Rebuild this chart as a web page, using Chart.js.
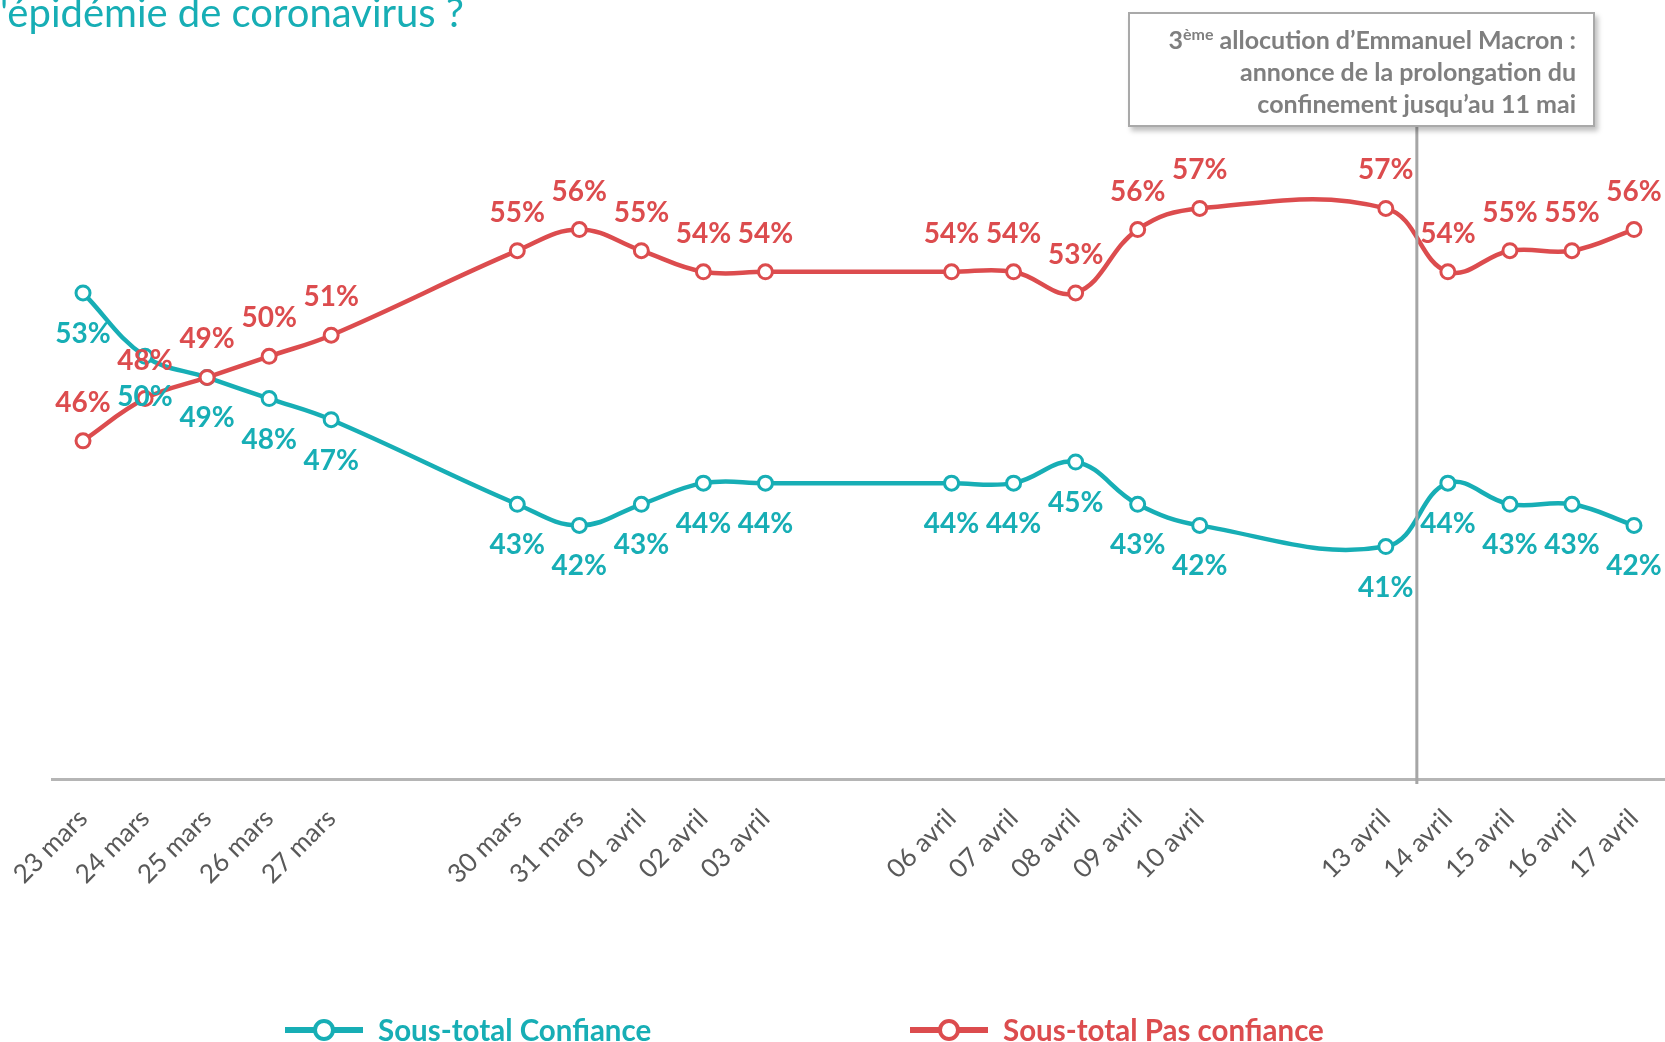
<!DOCTYPE html>
<html lang="fr">
<head>
  <meta charset="UTF-8" />
  <title>Confiance - coronavirus</title>
  <script src="https://cdn.jsdelivr.net/npm/chart.js"></script>
  <style>
    body {
      margin: 0;
      background: #fff;
      overflow: hidden;
      font-family: Lato, sans-serif;
    }
    .wrap {
      position: relative;
      width: 1665px;
      height: 1042px;
    }
    .title {
      position: absolute;
      left: 0;
      top: -8px;
      font-size: 40px;
      line-height: 40px;
      color: #17aeb5;
      white-space: nowrap;
    }
    .note {
      position: absolute;
      left: 1128px;
      top: 12px;
      width: 467px;
      height: 115px;
      box-sizing: border-box;
      border: 2px solid #a9a9a9;
      background: #fff;
      box-shadow: 3px 4px 5px rgba(0,0,0,0.25);
      padding: 9px 17px 0 0;
      text-align: right;
      font-weight: bold;
      font-size: 25px;
      line-height: 32px;
      color: #7f7f7f;
      z-index: 2;
    }
    .note sup {
      font-size: 16px;
      line-height: 0;
    }
    .legend {
      position: absolute;
      top: 1012px;
      font-weight: bold;
      font-size: 29.5px;
      line-height: 36px;
      white-space: nowrap;
    }
    .legend .mark {
      position: absolute;
      top: 15px;
      height: 6px;
    }
    .legend .dot {
      position: absolute;
      top: 7px;
      width: 14px;
      height: 14px;
      border-radius: 50%;
      background: #fff;
      border-width: 4px;
      border-style: solid;
    }
  </style>
</head>
<body>
<div class="wrap">
  <canvas id="chart"></canvas>
  <div class="title">'épidémie de coronavirus ?</div>
  <div class="note">3<sup>ème</sup> allocution d’Emmanuel Macron :<br>annonce de la prolongation du<br>confinement jusqu’au 11 mai</div>
  <div class="legend" id="legend"></div>
</div>
<script>
  // days since 23 mars (weekends skipped in the survey)
  const days = [0, 1, 2, 3, 4, 7, 8, 9, 10, 11, 14, 15, 16, 17, 18, 21, 22, 23, 24, 25];
  const dateLabels = ['23 mars', '24 mars', '25 mars', '26 mars', '27 mars',
    '30 mars', '31 mars', '01 avril', '02 avril', '03 avril',
    '06 avril', '07 avril', '08 avril', '09 avril', '10 avril',
    '13 avril', '14 avril', '15 avril', '16 avril', '17 avril'];
  const confiance = [53, 50, 49, 48, 47, 43, 42, 43, 44, 44, 44, 44, 45, 43, 42, 41, 44, 43, 43, 42];
  const pasConfiance = [46, 48, 49, 50, 51, 55, 56, 55, 54, 54, 54, 54, 53, 56, 57, 57, 54, 55, 55, 56];
  const eventDay = 21.5; // allocution du 13 avril au soir

  const TEAL = '#17aeb5';
  const RED = '#dc4c4e';

  const toPoints = arr => arr.map((v, i) => ({ x: days[i], y: v }));

  // percent labels next to every point + the vertical event line
  const pointLabels = {
    id: 'pointLabels',
    afterDatasetsDraw(chart) {
      const ctx = chart.ctx;
      ctx.save();
      ctx.font = 'bold 28px Lato';
      ctx.textAlign = 'center';
      ctx.textBaseline = 'middle';
      chart.data.datasets.forEach((ds, i) => {
        const meta = chart.getDatasetMeta(i);
        ctx.fillStyle = ds.borderColor;
        meta.data.forEach((pt, j) => {
          ctx.fillText(ds.data[j].y + '%', pt.x, pt.y + ds.labelOffset);
        });
      });
      ctx.restore();
    },
    afterDraw(chart) {
      const ctx = chart.ctx;
      const x = chart.scales.x.getPixelForValue(eventDay);
      ctx.save();
      ctx.strokeStyle = '#a6a6a6';
      ctx.lineWidth = 3;
      ctx.beginPath();
      ctx.moveTo(x, 60);
      ctx.lineTo(x, chart.chartArea.bottom + 5);
      ctx.stroke();
      ctx.restore();
    }
  };

  const ctx = document.getElementById('chart').getContext('2d');
  const chart = new Chart(ctx, {
    type: 'line',
    data: {
      datasets: [
        {
          label: 'Sous-total Pas confiance',
          data: toPoints(pasConfiance),
          borderColor: RED,
          labelOffset: -38
        },
        {
          label: 'Sous-total Confiance',
          data: toPoints(confiance),
          borderColor: TEAL,
          labelOffset: 41
        }
      ]
    },
    options: {
      responsive: true,
      maintainAspectRatio: false,
      animation: false,
      layout: {
        autoPadding: false,
        padding: { top: 145, left: 52, right: 0, bottom: 0 }
      },
      elements: {
        line: { borderWidth: 4.5, tension: 0.4 },
        point: { radius: 7, borderWidth: 3, backgroundColor: '#fff' }
      },
      plugins: {
        legend: { display: false },
        tooltip: { enabled: false }
      },
      scales: {
        x: {
          type: 'linear',
          min: -0.5,
          max: 25.5,
          afterBuildTicks: scale => {
            scale.ticks = days.map(d => ({ value: d }));
          },
          afterFit: scale => {
            scale.height = 263;
            scale.paddingLeft = 0;
            scale.paddingRight = 0;
          },
          grid: { drawOnChartArea: false, drawTicks: false },
          border: { color: '#b5b5b5', width: 3 },
          ticks: {
            autoSkip: false,
            minRotation: 45,
            maxRotation: 45,
            padding: 24,
            color: '#595959',
            font: { family: 'Lato', size: 26 },
            callback: value => dateLabels[days.indexOf(value)]
          }
        },
        y: {
          display: false,
          min: 30,
          max: 60
        }
      }
    },
    plugins: [pointLabels]
  });

  // legend: line + circle marker, like the original
  const legendItems = [
    { text: 'Sous-total Confiance', color: TEAL, left: 285 },
    { text: 'Sous-total Pas confiance', color: RED, left: 910 }
  ];
  const legend = document.getElementById('legend');
  legendItems.forEach(item => {
    const el = document.createElement('div');
    el.style.position = 'absolute';
    el.style.left = item.left + 'px';
    el.style.color = item.color;
    el.innerHTML =
      '<span class="mark" style="left:0;width:78px;background:' + item.color + '"></span>' +
      '<span class="dot" style="left:28px;border-color:' + item.color + '"></span>' +
      '<span style="position:absolute;left:93px">' + item.text + '</span>';
    legend.appendChild(el);
  });
</script>
</body>
</html>
